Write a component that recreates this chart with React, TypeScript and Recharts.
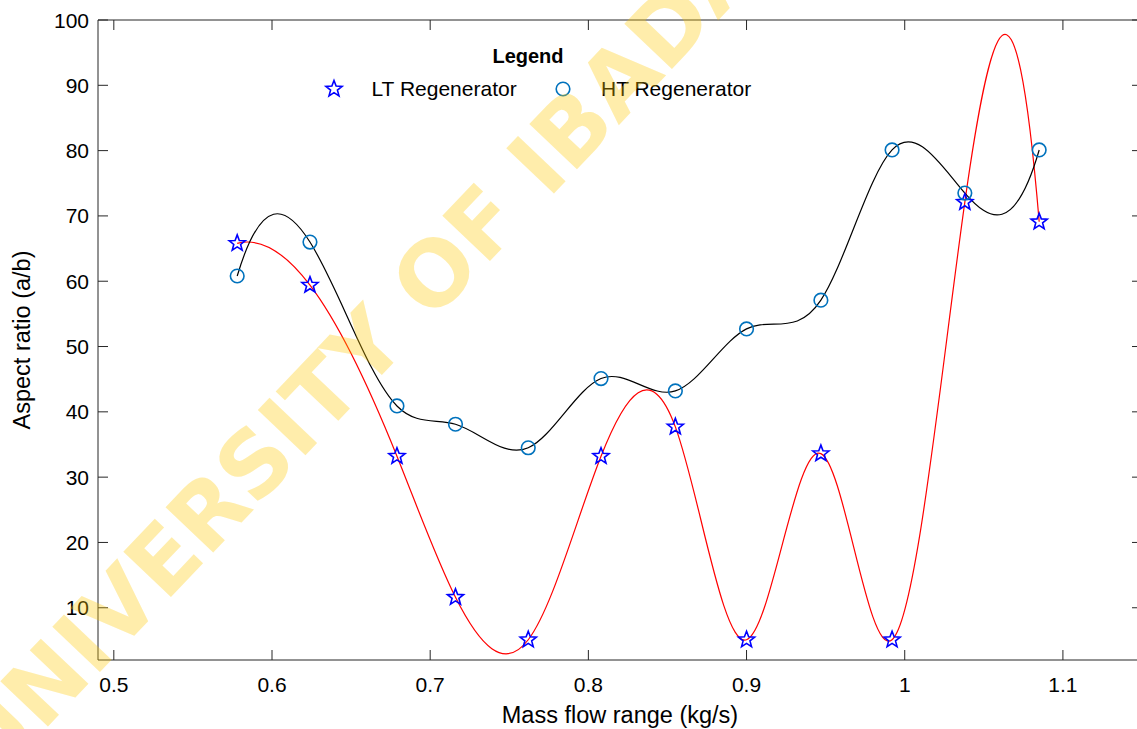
import { ComposedChart, Scatter, Line, XAxis, YAxis, Legend, ReferenceLine, Label } from 'recharts';

// values
const massFlow = [0.578, 0.624, 0.679, 0.716, 0.762, 0.808, 0.855, 0.9, 0.947, 0.992, 1.038, 1.085];
const ltRatio = [65.8, 59.4, 33.2, 11.6, 5.1, 33.2, 37.7, 5.1, 33.6, 5.1, 72.1, 69.1];
const htRatio = [60.8, 66.0, 40.9, 38.1, 34.5, 45.1, 43.2, 52.7, 57.1, 80.1, 73.5, 80.1];

const seriesNames = ['LT Regenerator', 'HT Regenerator'];
const xTicks = [0.5, 0.6, 0.7, 0.8, 0.9, 1, 1.1];
const yTicks = [10, 20, 30, 40, 50, 60, 70, 80, 90, 100];

const X_DOMAIN: [number, number] = [0.49, 1.15];
const Y_DOMAIN: [number, number] = [2, 100];

const CHART_W = 1137;
const CHART_H = 729;
// the right side of the box sits just past the picture's edge
const PLOT = { left: 98, right: 1142, top: 20, bottom: 660 };
const FONT = '"Liberation Sans", Arial, Helvetica, sans-serif';
const AXIS_COLOR = '#262626';
const LT_COLOR = '#0000FF';
const HT_COLOR = '#0072BD';

const ltData = massFlow.map((x, i) => ({ x, y: ltRatio[i] }));
const htData = massFlow.map((x, i) => ({ x, y: htRatio[i] }));

// not-a-knot cubic spline (like MATLAB's spline) as a d3 curve factory
function splineCurve(context: any) {
  let xs: number[] = [];
  let ys: number[] = [];
  return {
    areaStart() {},
    areaEnd() {},
    lineStart() {
      xs = [];
      ys = [];
    },
    point(x: number, y: number) {
      xs.push(+x);
      ys.push(+y);
    },
    lineEnd() {
      const n = xs.length;
      if (n === 0) return;
      context.moveTo(xs[0], ys[0]);
      if (n < 4) {
        for (let i = 1; i < n; i++) context.lineTo(xs[i], ys[i]);
        return;
      }
      const h = xs.slice(1).map((v, i) => v - xs[i]);
      // dense system for second derivatives
      const A: number[][] = Array.from({ length: n }, () => new Array(n + 1).fill(0));
      A[0][0] = h[1];
      A[0][1] = -(h[0] + h[1]);
      A[0][2] = h[0];
      for (let i = 1; i < n - 1; i++) {
        A[i][i - 1] = h[i - 1];
        A[i][i] = 2 * (h[i - 1] + h[i]);
        A[i][i + 1] = h[i];
        A[i][n] = 6 * ((ys[i + 1] - ys[i]) / h[i] - (ys[i] - ys[i - 1]) / h[i - 1]);
      }
      A[n - 1][n - 3] = h[n - 2];
      A[n - 1][n - 2] = -(h[n - 3] + h[n - 2]);
      A[n - 1][n - 1] = h[n - 3];
      for (let c = 0; c < n; c++) {
        let p = c;
        for (let r = c + 1; r < n; r++) if (Math.abs(A[r][c]) > Math.abs(A[p][c])) p = r;
        [A[c], A[p]] = [A[p], A[c]];
        for (let r = 0; r < n; r++) {
          if (r === c) continue;
          const f = A[r][c] / A[c][c];
          for (let k = c; k <= n; k++) A[r][k] -= f * A[c][k];
        }
      }
      const M = A.map((row, i) => row[n] / row[i]);
      for (let i = 0; i < n - 1; i++) {
        const s = (ys[i + 1] - ys[i]) / h[i];
        const d0 = s - (h[i] * (2 * M[i] + M[i + 1])) / 6;
        const d1 = s + (h[i] * (M[i] + 2 * M[i + 1])) / 6;
        context.bezierCurveTo(
          xs[i] + h[i] / 3,
          ys[i] + (h[i] / 3) * d0,
          xs[i + 1] - h[i] / 3,
          ys[i + 1] - (h[i] / 3) * d1,
          xs[i + 1],
          ys[i + 1]
        );
      }
    },
  };
}

function starPath(cx: number, cy: number, R = 8.5, r = 3.6) {
  let d = '';
  for (let i = 0; i < 10; i++) {
    const rad = i % 2 === 0 ? R : r;
    const a = -Math.PI / 2 + (i * Math.PI) / 5;
    d += (i === 0 ? 'M' : 'L') + (cx + rad * Math.cos(a)).toFixed(2) + ',' + (cy + rad * Math.sin(a)).toFixed(2);
  }
  return d + 'Z';
}

const StarMark = ({ cx, cy }: any) => (
  <path d={starPath(cx, cy)} fill="none" stroke={LT_COLOR} strokeWidth={1.6} />
);

const CircleMark = ({ cx, cy }: any) => (
  <circle cx={cx} cy={cy} r={6.8} fill="none" stroke={HT_COLOR} strokeWidth={1.6} />
);

// ticks point inward, mirrored on the top/right sides of the box
const XTick = ({ x, y, payload }: any) => (
  <g>
    <line x1={x} y1={PLOT.bottom} x2={x} y2={PLOT.bottom - 10} stroke={AXIS_COLOR} />
    <line x1={x} y1={PLOT.top} x2={x} y2={PLOT.top + 10} stroke={AXIS_COLOR} />
    <text x={x} y={y + 32} textAnchor="middle" fontSize={21} fontFamily={FONT} fill="#000">
      {payload.value}
    </text>
  </g>
);

const YTick = ({ x, y, payload }: any) => (
  <g>
    <line x1={PLOT.left} y1={y} x2={PLOT.left + 10} y2={y} stroke={AXIS_COLOR} />
    <line x1={PLOT.right} y1={y} x2={PLOT.right - 10} y2={y} stroke={AXIS_COLOR} />
    <text x={x - 9} y={y + 7.5} textAnchor="end" fontSize={21} fontFamily={FONT} fill="#000">
      {payload.value}
    </text>
  </g>
);

const LegendBox = ({ payload }: any) => {
  const items = seriesNames.filter((name) => (payload || []).some((p: any) => p.value === name));
  return (
    <svg width={480} height={70} style={{ display: 'block', overflow: 'visible' }}>
      <text x={228} y={23} textAnchor="middle" fontSize={20} fontWeight="bold" fontFamily={FONT} fill="#000">
        Legend
      </text>
      {items.map((name, i) => {
        const mx = i === 0 ? 34 : 263;
        const tx = i === 0 ? 71.5 : 301;
        return (
          <g key={name}>
            {i === 0 ? <StarMark cx={mx} cy={49} /> : <CircleMark cx={mx} cy={49} />}
            <text x={tx} y={56} fontSize={21} fontFamily={FONT} fill="#000">
              {name}
            </text>
          </g>
        );
      })}
    </svg>
  );
};

export default function App() {
  return (
    <div style={{ position: 'absolute', left: 0, top: 0, width: 1137, height: 729, overflow: 'hidden', background: '#fff' }}>
      <ComposedChart
        width={CHART_W}
        height={CHART_H}
        margin={{ top: PLOT.top, right: CHART_W - PLOT.right, bottom: 0, left: 0 }}
      >
        <XAxis
          type="number"
          dataKey="x"
          domain={X_DOMAIN}
          ticks={xTicks}
          allowDataOverflow
          height={CHART_H - PLOT.bottom}
          axisLine={{ stroke: AXIS_COLOR }}
          tickLine={false}
          tickSize={0}
          tickMargin={0}
          tick={<XTick />}
        >
          <Label
            value="Mass flow range (kg/s)"
            position="center"
            dy={20.5}
            fontSize={23.5}
            fontFamily={FONT}
            fill="#000"
          />
        </XAxis>
        <YAxis
          type="number"
          dataKey="y"
          domain={Y_DOMAIN}
          ticks={yTicks}
          allowDataOverflow
          width={PLOT.left}
          axisLine={{ stroke: AXIS_COLOR }}
          tickLine={false}
          tickSize={0}
          tickMargin={0}
          tick={<YTick />}
        >
          <Label
            value="Aspect ratio (a/b)"
            position="center"
            angle={-90}
            dx={-27.5}
            fontSize={23.5}
            fontFamily={FONT}
            fill="#000"
          />
        </YAxis>
        <ReferenceLine y={Y_DOMAIN[1]} stroke={AXIS_COLOR} strokeWidth={1} />
        <Legend
          layout="horizontal"
          align="center"
          verticalAlign="middle"
          wrapperStyle={{ left: 300, top: 40, width: 480, height: 70 }}
          content={<LegendBox />}
        />
        <Scatter name={seriesNames[0]} data={ltData} dataKey="y" shape={<StarMark />} isAnimationActive={false} />
        <Scatter name={seriesNames[1]} data={htData} dataKey="y" shape={<CircleMark />} isAnimationActive={false} />
        <Line
          type={splineCurve as any}
          data={ltData}
          dataKey="y"
          stroke="#FF0000"
          strokeWidth={1.2}
          dot={false}
          activeDot={false}
          legendType="none"
          isAnimationActive={false}
        />
        <Line
          type={splineCurve as any}
          data={htData}
          dataKey="y"
          stroke="#000000"
          strokeWidth={1.2}
          dot={false}
          activeDot={false}
          legendType="none"
          isAnimationActive={false}
        />
      </ComposedChart>
      <svg
        width={1137}
        height={729}
        style={{ position: 'absolute', left: 0, top: 0, pointerEvents: 'none' }}
      >
        <text
          x={381}
          y={328}
          dy="0.365em"
          textAnchor="middle"
          fontSize={90}
          fontWeight="bold"
          fontFamily='"DejaVu Sans", sans-serif'
          fill="#FFC800"
          fillOpacity={0.33}
          transform="rotate(-46.5 381 328)"
        >
          UNIVERSITY OF IBADAN
        </text>
      </svg>
    </div>
  );
}
